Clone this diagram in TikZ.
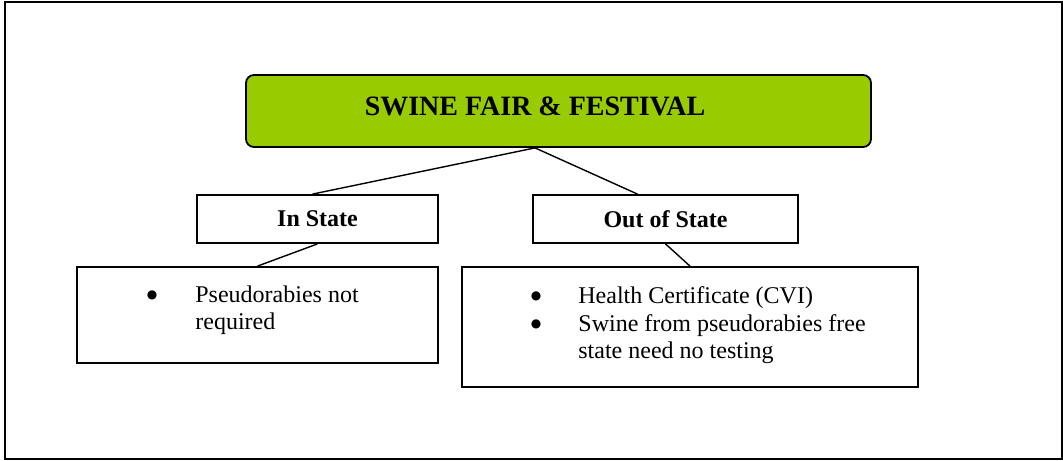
\documentclass[tikz,border=0pt]{standalone}
\usepackage{fontspec}
\setmainfont{Liberation Serif}
\newfontfamily\symfont{DejaVu Sans}
\usetikzlibrary{positioning}
\definecolor{lime}{HTML}{99CC00}

\newcommand{\lines}[1]{\begin{tabular}[t]{@{}l@{}}#1\end{tabular}}

\begin{document}
\begin{tikzpicture}[x=0.5pt,y=-0.5pt,
    every node/.style={font=\fontsize{12}{13.8}\selectfont},
    headbox/.style={draw,line width=0.9pt,rounded corners=4pt,fill=lime,minimum width=312.5pt,minimum height=36pt},
    catbox/.style={draw,line width=0.9pt,minimum height=24pt,font=\fontsize{12}{13.8}\selectfont\bfseries},
    infobox/.style={draw,line width=0.9pt},
    itemtext/.style={anchor=base west,inner sep=0pt},
    bul/.style={anchor=center,inner sep=0pt,font=\symfont\fontsize{6}{7}\selectfont},
    link/.style={line width=0.7pt}]
        \useasboundingbox (0,0) rectangle (1063,460);
        \draw[line width=1pt] (5,2) rectangle (1062,459);

        % top of the tree
        \node[headbox] (fair) at (558.5,111) {};
        \node[anchor=base,inner sep=0pt,font=\fontsize{14}{16}\selectfont\bfseries] (title) at (535,115) {SWINE FAIR \& FESTIVAL};

        % two categories
        \node[catbox,minimum width=120.5pt] (instate) at (317.5,219) {In State};
        \node[catbox,minimum width=132.5pt] (outstate) at (665.5,219) {Out of State};

        % requirements
        \node[infobox,minimum width=180.5pt,minimum height=48pt] (inreq) at (257.5,315) {};
        \node[infobox,minimum width=228pt,minimum height=60pt] (outreq) at (690,327) {};

        \node[bul] (inbul) at (152,295) {●};
        \node[itemtext] (initem) at (195,302) {\lines{Pseudorabies not\\required}};

        \node[bul] (outbula) at (536,296) {●};
        \node[itemtext] (outitema) at (578,303) {Health Certificate (CVI)};
        \node[bul] (outbulb) at (536,324) {●};
        \node[itemtext] (outitemb) at (578,331) {\lines{Swine from pseudorabies free\\state need no testing}};

        \draw[link] (fair.south -| title) -- ([xshift=-2.5pt]instate.north);
        \draw[link] (fair.south -| title) -- ([xshift=-14pt]outstate.north);
        \draw[link] (instate.south) -- (inreq.north);
        \draw[link] (outstate.south) -- (outreq.north);
\end{tikzpicture}
\end{document}
